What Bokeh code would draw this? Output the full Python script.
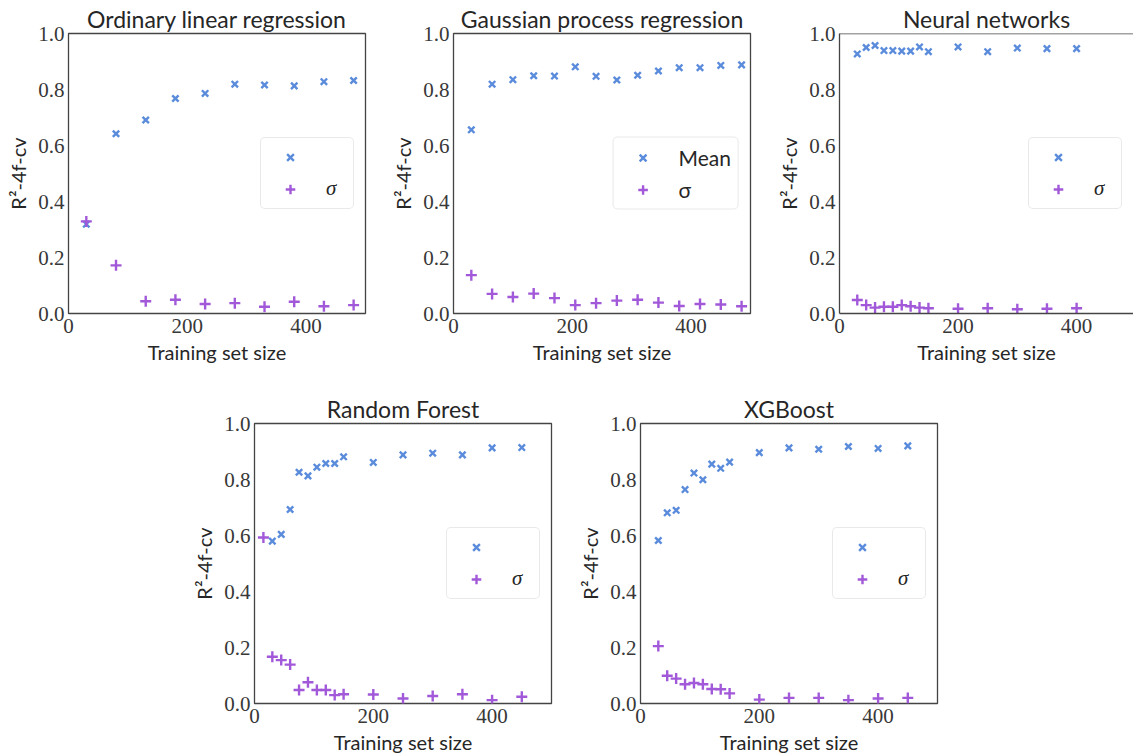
from bokeh.plotting import figure
from bokeh.models import Range1d, Legend, LegendItem, Span, PrintfTickFormatter, FixedTicker
from bokeh.layouts import row, column
from bokeh.embed import file_html
from bokeh.resources import INLINE

# ---------------- data ----------------
TITLES = ["Ordinary linear regression", "Gaussian process regression", "Neural networks",
          "Random Forest", "XGBoost"]
X_LABEL = "Training set size"
Y_LABEL = "R\u00b2-4f-cv"
X_TICKS = [0, 200, 400]
Y_TICKS = [0.0, 0.2, 0.4, 0.6, 0.8, 1.0]
MEAN_LABELS = ["", "Mean", "", "", ""]
SIGMA_LABEL = "\u03c3"

olr_x = [30, 80, 130, 180, 230, 280, 330, 380, 430, 480]
olr_mean = [0.319, 0.642, 0.691, 0.768, 0.786, 0.819, 0.816, 0.813, 0.828, 0.832]
olr_sigma = [0.329, 0.172, 0.044, 0.049, 0.034, 0.037, 0.024, 0.042, 0.026, 0.030]

gpr_x = [30, 65, 100, 135, 170, 205, 240, 275, 310, 345, 380, 415, 450, 485]
gpr_mean = [0.656, 0.819, 0.835, 0.849, 0.848, 0.881, 0.847, 0.834, 0.851, 0.866, 0.878, 0.878, 0.886, 0.888]
gpr_sigma = [0.137, 0.070, 0.059, 0.071, 0.055, 0.030, 0.037, 0.046, 0.049, 0.039, 0.027, 0.034, 0.032, 0.026]

nn_x = [30, 45, 60, 75, 90, 105, 120, 135, 150, 200, 250, 300, 350, 400]
nn_mean = [0.927, 0.950, 0.957, 0.939, 0.939, 0.937, 0.937, 0.952, 0.935, 0.952, 0.935, 0.948, 0.946, 0.946]
nn_sigma = [0.048, 0.030, 0.021, 0.024, 0.024, 0.030, 0.026, 0.021, 0.019, 0.017, 0.019, 0.015, 0.017, 0.019]

rf_mean_x = [30, 45, 60, 75, 90, 105, 120, 135, 150, 200, 250, 300, 350, 400, 450]
rf_mean = [0.580, 0.604, 0.693, 0.826, 0.813, 0.844, 0.857, 0.857, 0.881, 0.861, 0.888, 0.894, 0.888, 0.913, 0.914]
rf_sigma_x = [15, 30, 45, 60, 75, 90, 105, 120, 135, 150, 200, 250, 300, 350, 400, 450]
rf_sigma = [0.593, 0.167, 0.155, 0.139, 0.048, 0.076, 0.048, 0.048, 0.030, 0.033, 0.032, 0.018, 0.027, 0.033, 0.012, 0.024]

xgb_x = [30, 45, 60, 75, 90, 105, 120, 135, 150, 200, 250, 300, 350, 400, 450]
xgb_mean = [0.582, 0.681, 0.690, 0.764, 0.823, 0.799, 0.855, 0.840, 0.862, 0.896, 0.913, 0.908, 0.918, 0.911, 0.920]
xgb_sigma = [0.205, 0.099, 0.089, 0.069, 0.073, 0.069, 0.052, 0.051, 0.036, 0.014, 0.020, 0.020, 0.012, 0.018, 0.020]

# ---------------- style ----------------
BLUE = "#5b8cdc"
PURPLE = "#a259d9"
SPINE = "#444444"
TEXT = "#262626"
SANS = "Lato"
SERIF = "Liberation Serif"


def make_panel(title, mx, my, sx, sy, mean_label, frame_w, x_end, bl, br, bt, bb, clip_right=False):
    p = figure(frame_width=frame_w, frame_height=280,
               x_range=Range1d(0, x_end), y_range=Range1d(0, 1),
               min_border_left=bl, min_border_right=br, min_border_top=bt, min_border_bottom=bb,
               toolbar_location=None, output_backend="svg", title=title)
    p.title.text_font = SANS
    p.title.text_font_size = "23px"
    p.title.text_font_style = "normal"
    p.title.text_color = TEXT
    p.title.align = "center"
    p.title.standoff = 1
    p.grid.visible = False
    p.background_fill_color = "white"
    p.border_fill_color = "white"

    if clip_right:
        p.outline_line_color = None
        for ax in (p.xaxis[0], p.yaxis[0]):
            ax.axis_line_color = SPINE
            ax.axis_line_width = 1.3
        p.add_layout(Span(location=1.0, dimension="width", line_color=SPINE, line_width=1.3))
    else:
        p.outline_line_color = SPINE
        p.outline_line_width = 1.3
        p.outline_line_alpha = 1.0
        p.xaxis.axis_line_color = None
        p.yaxis.axis_line_color = None

    for ax in (p.xaxis[0], p.yaxis[0]):
        ax.major_tick_line_color = None
        ax.minor_tick_line_color = None
        ax.major_tick_out = 0
        ax.major_tick_in = 0
        ax.major_label_text_font = SERIF
        ax.major_label_text_font_size = "21px"
        ax.major_label_text_color = "#383838"
        ax.axis_label_text_font = SANS
        ax.axis_label_text_font_size = "20px"
        ax.axis_label_text_font_style = "normal"
        ax.axis_label_text_color = TEXT
    p.xaxis.ticker = FixedTicker(ticks=X_TICKS)
    p.yaxis.ticker = FixedTicker(ticks=Y_TICKS)
    p.yaxis.formatter = PrintfTickFormatter(format="%.1f")
    p.xaxis.axis_label = X_LABEL
    p.yaxis.axis_label = Y_LABEL
    p.xaxis.major_label_standoff = 5
    p.yaxis.major_label_standoff = 4
    p.xaxis.axis_label_standoff = 4
    p.yaxis.axis_label_standoff = 5

    r1 = p.scatter(mx, my, marker="x", size=9, line_color=BLUE, line_width=2.4)
    r2 = p.scatter(sx, sy, marker="cross", size=11, line_color=PURPLE, line_width=2.4)

    legend = Legend(items=[LegendItem(label=mean_label, renderers=[r1]),
                           LegendItem(label=SIGMA_LABEL, renderers=[r2])],
                    location="center_right")
    legend.margin = 11
    legend.padding = 7
    legend.spacing = 7
    legend.glyph_width = 44
    legend.glyph_height = 24
    legend.label_height = 24
    legend.label_standoff = 14
    if mean_label:
        legend.label_text_font = SANS
        legend.label_text_font_style = "normal"
    else:
        legend.label_text_font = SERIF
        legend.label_text_font_style = "italic"
    legend.label_text_font_size = "21px"
    legend.label_text_color = TEXT
    legend.border_line_color = "#d4d4d4"
    legend.border_line_width = 1
    legend.background_fill_alpha = 0.8
    try:
        legend.border_radius = 5
    except Exception:
        pass
    p.add_layout(legend)
    return p


p1 = make_panel(TITLES[0], olr_x, olr_mean, olr_x, olr_sigma, MEAN_LABELS[0],
                297, 500, 68, 20, 33, 77)
p2 = make_panel(TITLES[1], gpr_x, gpr_mean, gpr_x, gpr_sigma, MEAN_LABELS[1],
                297, 500, 68, 21, 33, 77)
p3 = make_panel(TITLES[2], nn_x, nn_mean, nn_x, nn_sigma, MEAN_LABELS[2],
                294, 496, 68, 0, 33, 77, clip_right=True)
p4 = make_panel(TITLES[3], rf_mean_x, rf_mean, rf_sigma_x, rf_sigma, MEAN_LABELS[3],
                297, 500, 254, 21, 33, 52)
p5 = make_panel(TITLES[4], xgb_x, xgb_mean, xgb_x, xgb_sigma, MEAN_LABELS[4],
                297, 500, 68, 20, 33, 52)

layout = column(row(p1, p2, p3), row(p4, p5))
open("out.html", "w").write(file_html(layout, INLINE))
